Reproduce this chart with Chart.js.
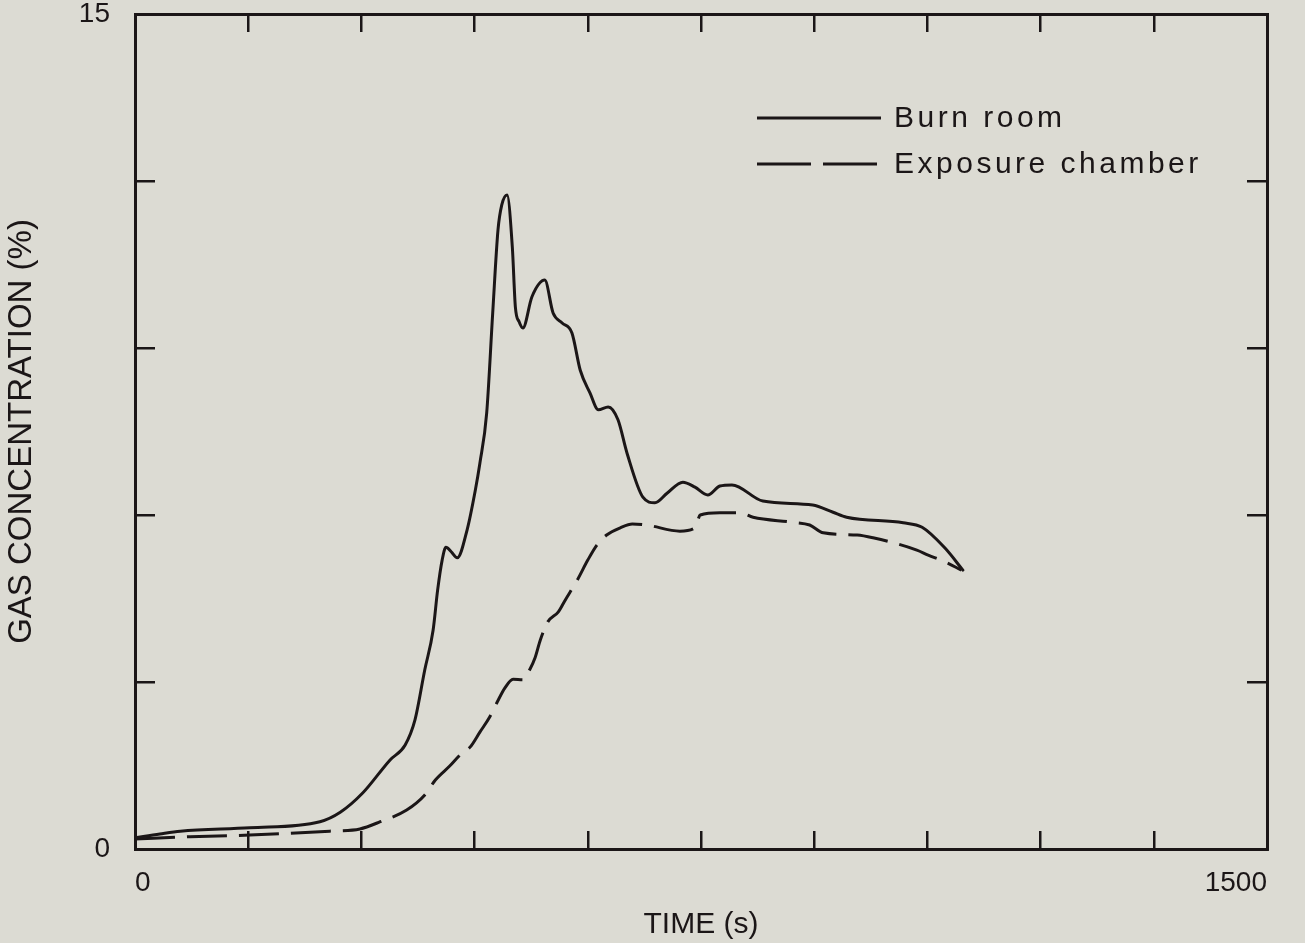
<!DOCTYPE html>
<html>
<head>
<meta charset="utf-8">
<title>Gas concentration</title>
<script src="https://cdn.jsdelivr.net/npm/chart.js@4.4.0/dist/chart.umd.min.js"></script>
<style>
  html, body { margin: 0; padding: 0; background: #dcdbd3; }
  canvas { display: block; }
</style>
</head>
<body>
<canvas id="gasChart" width="1305" height="943"></canvas>
<script>
// values: time (s) against gas concentration (%)
var burnTime = [0, 33, 60, 152, 245, 272, 302, 338, 358, 371,
  384, 395, 401, 407, 412, 419, 427, 440, 451, 457,
  466, 474, 481, 486, 493, 500, 504, 509, 514, 526,
  543, 554, 566, 579, 590, 603, 614, 627, 640, 652,
  673, 689, 705, 726, 742, 759, 775, 791, 832, 898,
  925, 943, 1018, 1043, 1073, 1097];
var burnConc = [0.20, 0.27, 0.32, 0.38, 0.49, 0.66, 1.01, 1.60, 1.87, 2.32,
  3.22, 3.93, 4.65, 5.19, 5.42, 5.34, 5.23, 5.73, 6.45, 6.93,
  7.83, 9.63, 11.12, 11.57, 11.75, 10.81, 9.74, 9.47, 9.36, 9.92,
  10.22, 9.63, 9.45, 9.27, 8.60, 8.19, 7.89, 7.94, 7.71, 7.11,
  6.32, 6.22, 6.39, 6.59, 6.50, 6.36, 6.52, 6.54, 6.25, 6.18,
  6.05, 5.96, 5.86, 5.78, 5.41, 5.01];

var chamberTime = [0, 73, 152, 258, 298, 325, 360, 384, 398, 417,
  433, 444, 457, 470, 480, 490, 501, 514, 523, 530,
  537, 547, 561, 570, 586, 600, 612, 625, 643, 659,
  678, 722, 742, 749, 775, 802, 819, 871, 894, 912,
  957, 978, 1036, 1051, 1073, 1095];
var chamberConc = [0.18, 0.22, 0.25, 0.32, 0.36, 0.49, 0.70, 0.97, 1.24, 1.49,
  1.72, 1.83, 2.10, 2.37, 2.64, 2.89, 3.05, 3.04, 3.22, 3.43,
  3.75, 4.08, 4.26, 4.47, 4.83, 5.19, 5.46, 5.64, 5.77, 5.84,
  5.82, 5.71, 5.77, 6.00, 6.04, 6.04, 5.96, 5.87, 5.82, 5.68,
  5.64, 5.59, 5.37, 5.28, 5.16, 5.01];

var seriesLabels = ['Burn room', 'Exposure chamber'];

// only the end ticks carry a number
var xLabelled = [0, 1500];
var yLabelled = [0, 15];

var INK = '#1b1617';
var FONT = '"Liberation Sans", Arial, Helvetica, sans-serif';

function toPoints(xs, ys) {
  return xs.map(function (x, i) { return { x : x, y : ys[i] }; });
}

function endLabels(list) {
  return function (value) {
    return list.indexOf(value) >= 0 ? String(value) : '';
  };
}

// fix the axis box size and drop the label overflow padding,
// so the plot frame lands where it is in the figure
function fixedHeight(h) {
  return function (scale) {
    scale.height = h;
    scale.paddingLeft = 0;
    scale.paddingRight = 0;
  };
}

function fixedWidth(w) {
  return function (scale) {
    scale.width = w;
    scale.paddingTop = 0;
    scale.paddingBottom = 0;
  };
}

/** legend drawn inside the plot, upper right */
var insideLegend = {
  id : 'insideLegend',
  afterDatasetsDraw : function (chart, args, opts) {
    var ctx = chart.ctx;
    var area = chart.chartArea;
    var x0 = area.left + opts.left;

    ctx.save();
    ctx.strokeStyle = INK;
    ctx.fillStyle = INK;
    ctx.font = opts.font;
    ctx.letterSpacing = opts.letterSpacing;
    ctx.textBaseline = 'middle';

    chart.data.datasets.forEach(function (ds, i) {
      var y = area.top + opts.top + i * opts.rowHeight;
      ctx.lineWidth = ds.borderWidth;
      ctx.setLineDash(ds.borderDash ? opts.dash : []);
      ctx.beginPath();
      ctx.moveTo(x0, y);
      ctx.lineTo(x0 + opts.lineLength, y);
      ctx.stroke();
      ctx.setLineDash([]);
      ctx.fillText(ds.label, x0 + opts.lineLength + opts.gap, y + 1);
    });
    ctx.restore();
  },
};

var ctx = document.getElementById('gasChart').getContext('2d');

var gasChart = new Chart(ctx, {
  type : 'line',
  data : {
    datasets : [
      {
        label : seriesLabels[0],
        data : toPoints(burnTime, burnConc),
        borderColor : INK,
        borderWidth : 3,
        pointRadius : 0,
        fill : false,
        cubicInterpolationMode : 'monotone',
        borderJoinStyle : 'round',
        borderCapStyle : 'round',
      },
      {
        label : seriesLabels[1],
        data : toPoints(chamberTime, chamberConc),
        borderColor : INK,
        borderWidth : 3,
        borderDash : [40, 12],
        pointRadius : 0,
        fill : false,
        cubicInterpolationMode : 'monotone',
        borderJoinStyle : 'round',
      },
    ],
  },
  options : {
    responsive : false,
    animation : false,
    layout : { padding : 0 },
    plugins : {
      legend : { display : false },
      tooltip : { enabled : false },
      insideLegend : {
        left : 622,
        top : 104,
        rowHeight : 46,
        lineLength : 124,
        gap : 13,
        dash : [54, 12],
        font : '30px ' + FONT,
        letterSpacing : '3.5px',
      },
    },
    scales : {
      x : {
        type : 'linear',
        position : 'bottom',
        min : 0,
        max : 1500,
        afterFit : fixedHeight(94),
        ticks : {
          stepSize : 150,
          autoSkip : false,
          maxRotation : 0,
          align : 'inner',
          padding : 38,
          color : INK,
          font : { family : FONT, size : 28, lineHeight : 1 },
          callback : endLabels(xLabelled),
        },
        grid : { drawOnChartArea : false, tickLength : -18, lineWidth : 2.5, color : INK },
        border : { width : 3, color : INK },
        title : {
          display : true,
          text : 'TIME (s)',
          color : INK,
          font : { family : FONT, size : 30, lineHeight : 1.2 },
          padding : { top : 0, bottom : 0 },
        },
      },
      y : {
        type : 'linear',
        position : 'left',
        min : 0,
        max : 15,
        afterFit : fixedWidth(135),
        ticks : {
          stepSize : 3,
          autoSkip : false,
          padding : 45,
          color : INK,
          font : { family : FONT, size : 28, lineHeight : 1 },
          callback : endLabels(yLabelled),
        },
        grid : { drawOnChartArea : false, tickLength : -20, lineWidth : 2.5, color : INK },
        border : { width : 3, color : INK },
        title : {
          display : true,
          text : 'GAS CONCENTRATION (%)',
          color : INK,
          font : { family : FONT, size : 33, lineHeight : 1 },
          padding : { top : 5, bottom : 0 },
        },
      },
      x2 : {
        type : 'linear',
        position : 'top',
        display : true,
        min : 0,
        max : 1500,
        afterFit : fixedHeight(14),
        ticks : { display : false, stepSize : 150, autoSkip : false },
        grid : { drawOnChartArea : false, tickLength : -18, lineWidth : 2.5, color : INK },
        border : { width : 3, color : INK },
      },
      y2 : {
        type : 'linear',
        position : 'right',
        display : true,
        min : 0,
        max : 15,
        afterFit : fixedWidth(38),
        ticks : { display : false, stepSize : 3, autoSkip : false },
        grid : { drawOnChartArea : false, tickLength : -20, lineWidth : 2.5, color : INK },
        border : { width : 3, color : INK },
      },
    },
  },
  plugins : [insideLegend],
});
</script>
</body>
</html>
